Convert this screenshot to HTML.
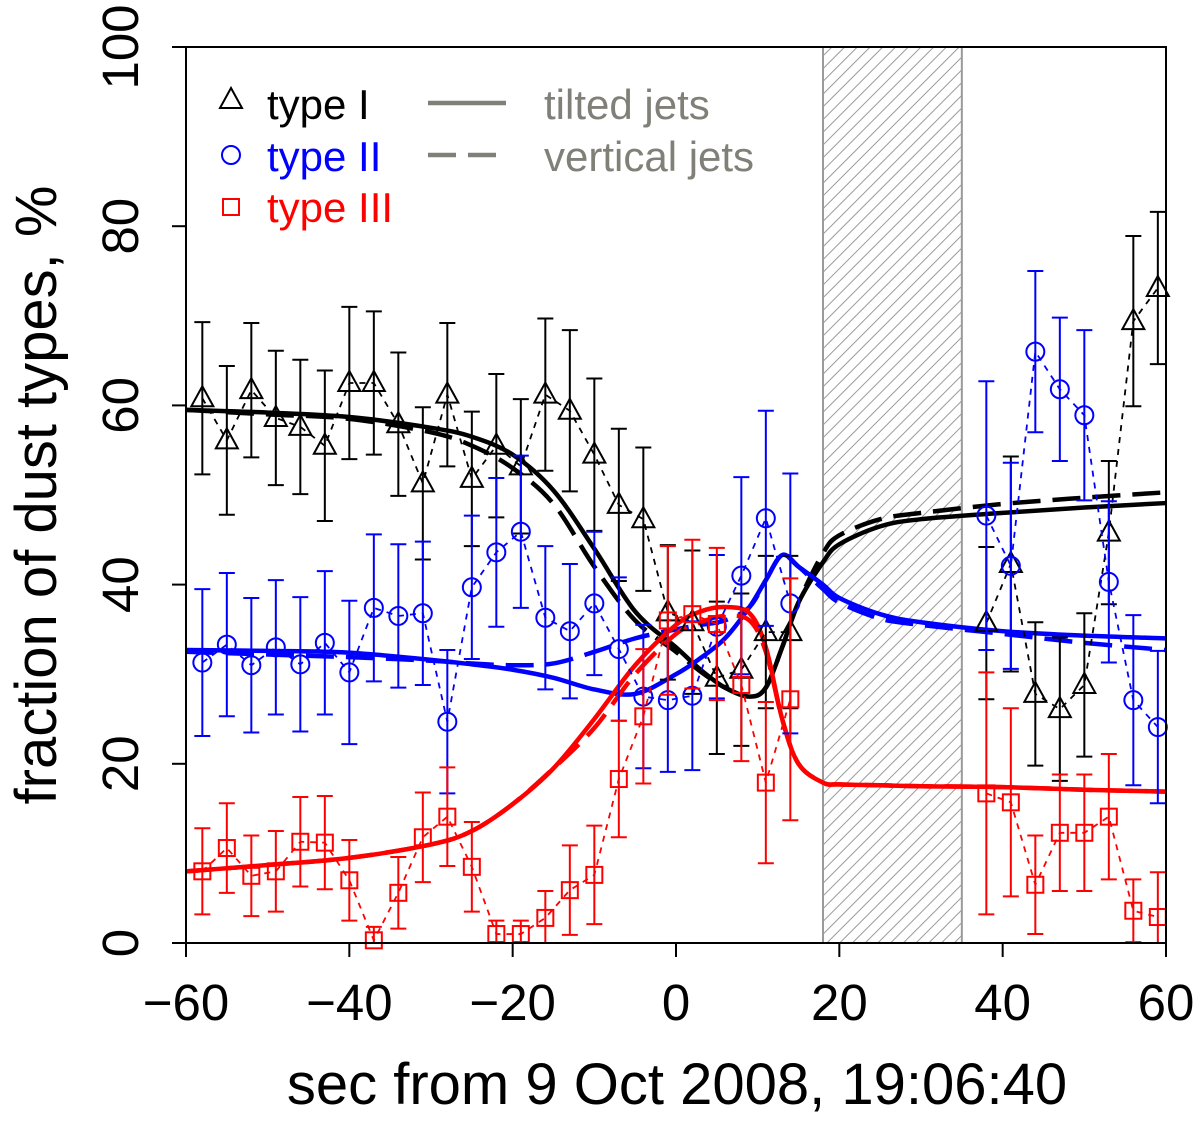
<!DOCTYPE html>
<html><head><meta charset="utf-8"><style>
html,body{margin:0;padding:0;background:#fff}
svg{display:block;font-family:"Liberation Sans",sans-serif}
</style></head><body>
<svg id="chart" width="1200" height="1121" viewBox="0 0 1200 1121" xmlns="http://www.w3.org/2000/svg">
<defs>
<pattern id="hatch" patternUnits="userSpaceOnUse" width="9" height="9" patternTransform="rotate(45)">
<line x1="0" y1="0" x2="0" y2="9" stroke="#9a9a9a" stroke-width="2"/>
</pattern>
</defs>
<g id="plot"></g>
</svg>
<script>
const times=[-58,-55,-52,-49,-46,-43,-40,-37,-34,-31,-28,-25,-22,-19,-16,-13,-10,-7,-4,-1,2,5,8,11,14,38,41,44,47,50,53,56,59];
const type1=[60.8,56.1,61.7,58.6,57.6,55.5,62.5,62.5,57.9,51.3,61.2,51.8,55.5,53.2,61.2,59.4,54.5,48.9,47.3,36.9,35.8,29.6,30.5,34.7,34.7,35.7,42.3,27.8,26.1,28.8,45.8,69.4,73.1];
const type1Err=[8.5,8.3,7.5,7.5,7.5,8.4,8.5,8,8,8.5,8,7.5,8,7.5,8.5,9,8.5,8.5,8,7.5,8,8.5,8.5,8.5,8.5,8.5,12,8,8,8,8,9.5,8.5];
const type2=[31.3,33.3,31.0,33.0,31.1,33.5,30.2,37.4,36.5,36.8,24.7,39.7,43.6,45.9,36.3,34.8,37.9,32.8,27.5,27.1,27.6,35.3,41.0,47.4,37.9,47.7,42.1,66.0,61.8,58.9,40.3,27.1,24.1];
const type2Err=[8.2,8,7.5,7.5,7.5,8,8,8.2,8,8,8,8,8.3,8.5,8,7.5,8,8,8,8,8.3,8,11,12,14.5,15,11.5,9,8,9.5,9,9.5,8.5];
const type3=[8.0,10.6,7.5,8.0,11.3,11.2,7.0,0.3,5.6,11.8,14.1,8.5,1.0,1.0,2.8,5.9,7.6,18.3,25.3,36.0,36.7,35.6,28.8,17.9,27.2,16.7,15.7,6.5,12.3,12.3,14.1,3.6,2.9];
const type3Err=[4.8,5,4.5,4.5,5,5.2,4.5,1.5,4,5,5.5,5,1.5,1.5,3,5,5.5,6.5,7.5,8.3,8.3,8.5,8.5,9,13.5,13.5,10.5,5.5,6.5,6.5,7,3.5,5];
const curveT=[-60,-50,-40,-30,-25,-20,-15,-10,-5,0,3,6,9,11,13,15,18,20,25,30,40,50,60];
const blackSolid=[59.5,59.2,58.7,57.5,56.5,54.5,50.5,44,37,33,30.5,28.5,27.5,28.5,33,38,42.5,44.5,46.5,47.3,48,48.6,49.1];
const blackDashed=[59.5,59,58.5,57,55.5,53,49,42,36,32.5,30.3,28.5,27.5,28.5,33,38,43.5,45.5,47.3,48,49,49.7,50.3];
const blueSolid=[32.7,32.6,32.4,31.6,31.1,30.5,29.6,28.3,27.8,30,31.8,34,37.5,40.5,43.3,42,40,38.5,36.7,35.8,34.8,34.3,34];
const blueDashed=[32.5,32.2,31.9,31.5,31.2,31,31.2,32.5,34,35,35.5,36,37.5,40.5,43.3,42,39.5,38,36.2,35.5,34.5,33.5,32.7];
const redSolid=[8,8.7,9.5,11,12.5,15.5,19.5,25,31,35.5,37,37.5,36.8,33,25,20,17.9,17.7,17.6,17.5,17.4,17.1,16.9];
const redDashed=[8,8.7,9.5,11,12.5,15.5,19.5,24,30,34.5,35.8,36.5,36,32.5,25,20,17.9,17.7,17.6,17.5,17.4,17.1,16.9];
const xTicks=[-60,-40,-20,0,20,40,60];
const yTicks=[0,20,40,60,80,100];

const L=186,R=1166,T=47,B=943;
const xs=t=>L+(t+60)/120*(R-L);
const ys=v=>B-v/100*(B-T);
const NS='http://www.w3.org/2000/svg';
const g=document.getElementById('plot');
function mk(tag,attrs,parent){const e=document.createElementNS(NS,tag);for(const k in attrs)e.setAttribute(k,attrs[k]);(parent||g).appendChild(e);return e;}

let band=mk('rect',{x:xs(18),y:T,width:xs(35)-xs(18),height:B-T,fill:'url(#hatch)',stroke:'#9a9a9a','stroke-width':2});



function pts(ts,vs){return ts.map((t,i)=>xs(t)+','+ys(vs[i])).join(' ');}
function smoothPath(ts,vs){
  const P=ts.map((t,i)=>[xs(t),ys(vs[i])]);
  let d='M'+P[0][0]+','+P[0][1];
  for(let i=0;i<P.length-1;i++){
    const p0=P[Math.max(0,i-1)],p1=P[i],p2=P[i+1],p3=P[Math.min(P.length-1,i+2)];
    const c1=[p1[0]+(p2[0]-p0[0])/6,p1[1]+(p2[1]-p0[1])/6];
    const c2=[p2[0]-(p3[0]-p1[0])/6,p2[1]-(p3[1]-p1[1])/6];
    d+=`C${c1[0]},${c1[1]} ${c2[0]},${c2[1]} ${p2[0]},${p2[1]}`;
  }
  return d;
}
function curve(vs,color,dash,name){
  const p=mk('path',{d:smoothPath(curveT,vs),fill:'none',stroke:color,'stroke-width':4.5,'stroke-linejoin':'round'});
  if(dash)p.setAttribute('stroke-dasharray','28,12');
  
  
}
curve(blackDashed,'#000',true,'type1-vertical-jets-curve');
curve(blackSolid,'#000',false,'type1-tilted-jets-curve');
curve(blueDashed,'#0000ff',true,'type2-vertical-jets-curve');
curve(blueSolid,'#0000ff',false,'type2-tilted-jets-curve');
curve(redDashed,'#ff0000',true,'type3-vertical-jets-curve');
curve(redSolid,'#ff0000',false,'type3-tilted-jets-curve');

function series(vals,errs,color,shape,name){
  const grp=mk('g',{});
  
  
  [[0,25],[25,33]].forEach(([a,b])=>{
    const l=mk('polyline',{points:pts(times.slice(a,b),vals.slice(a,b)),fill:'none',stroke:color,'stroke-width':1.8,'stroke-dasharray':'6,6'},grp);
    
    
  });
  times.forEach((t,i)=>{
    const x=xs(t),y=ys(vals[i]);
    const lo=ys(Math.max(0,vals[i]-errs[i])),hi=ys(Math.min(100,vals[i]+errs[i]));
    const eb=mk('path',{d:`M${x},${lo}V${hi}M${x-8},${lo}H${x+8}M${x-8},${hi}H${x+8}`,stroke:color,'stroke-width':2,fill:'none'},grp);
    
    
    let m;
    if(shape==='tri')m=mk('polygon',{points:`${x},${y-12} ${x-11},${y+8} ${x+11},${y+8}`,fill:'none',stroke:color,'stroke-width':2},grp);
    else if(shape==='circ')m=mk('circle',{cx:x,cy:y,r:9,fill:'none',stroke:color,'stroke-width':2},grp);
    else m=mk('rect',{x:x-8,y:y-8,width:16,height:16,fill:'none',stroke:color,'stroke-width':2},grp);
    
    
  });
}
series(type1,type1Err,'#000','tri','type1');
series(type2,type2Err,'#0000ff','circ','type2');
series(type3,type3Err,'#ff0000','sq','type3');

let fr=mk('rect',{x:L,y:T,width:R-L,height:B-T,fill:'none',stroke:'#000','stroke-width':2});



xTicks.forEach(v=>{
  const x=xs(v);
  const tk=mk('line',{x1:x,y1:B,x2:x,y2:B+14,stroke:'#000','stroke-width':2});
  
  
  const tx=mk('text',{x:x,y:1020,'font-size':51,'text-anchor':'middle'});
  tx.textContent=(v<0?'\u2212':'')+Math.abs(v);
  
  
});
yTicks.forEach(v=>{
  const y=ys(v);
  const tk=mk('line',{x1:L-14,y1:y,x2:L,y2:y,stroke:'#000','stroke-width':2});
  
  
  const tx=mk('text',{x:0,y:0,'font-size':51,'text-anchor':'middle',transform:`translate(138,${y}) rotate(-90)`});
  tx.textContent=v;
  
  
});
let xt=mk('text',{x:677,y:1104,'font-size':58,'text-anchor':'middle'});
xt.textContent='sec from 9 Oct 2008, 19:06:40';


let yt=mk('text',{x:0,y:0,'font-size':58,'text-anchor':'middle',transform:'translate(56,495) rotate(-90)'});
yt.textContent='fraction of dust types, %';



const lg=mk('g',{});


function ltext(x,y,s,c,name){const t=mk('text',{x:x,y:y,'font-size':42,fill:c},lg);t.textContent=s;}
let m1=mk('polygon',{points:'231,88 220,108 242,108',fill:'none',stroke:'#000','stroke-width':2},lg);

ltext(267,119,'type I','#000','legend-type1-label');
let m2=mk('circle',{cx:231,cy:155,r:9,fill:'none',stroke:'#0000ff','stroke-width':2},lg);

ltext(267,171,'type II','#0000ff','legend-type2-label');
let m3=mk('rect',{x:223,y:199,width:16,height:16,fill:'none',stroke:'#ff0000','stroke-width':2},lg);

ltext(267,222,'type III','#ff0000','legend-type3-label');
let l1=mk('line',{x1:428,y1:103,x2:506,y2:103,stroke:'#808078','stroke-width':4.5},lg);

ltext(544,119,'tilted jets','#808078','legend-tilted-label');
let l2=mk('line',{x1:428,y1:155,x2:506,y2:155,stroke:'#808078','stroke-width':4.5,'stroke-dasharray':'28,12'},lg);

ltext(544,171,'vertical jets','#808078','legend-vertical-label');
</script>
</body></html>
